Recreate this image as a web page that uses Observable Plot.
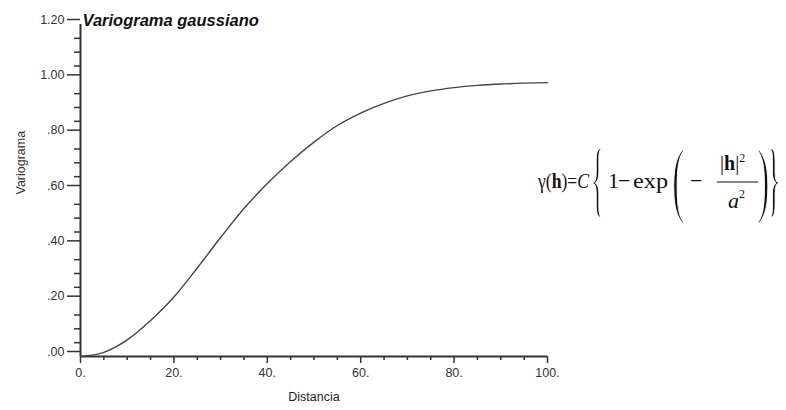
<!DOCTYPE html>
<html><head><meta charset="utf-8">
<script src="https://cdn.jsdelivr.net/npm/d3@7"></script>
<script src="https://cdn.jsdelivr.net/npm/@observablehq/plot@0.6"></script>
<style>html,body{margin:0;padding:0;background:#fff}</style>
</head><body><div id="chart"></div>
<script>
// Data
const distancia  = [0, 5, 10, 15, 20, 25, 30, 35, 40, 45, 50, 55, 60, 65, 70, 75, 80, 85, 90, 95, 100];
const variograma = [0, 0.015, 0.06, 0.13, 0.215, 0.32, 0.43, 0.535, 0.625, 0.705, 0.775, 0.835, 0.88, 0.915, 0.942, 0.96, 0.972, 0.98, 0.985, 0.988, 0.99];

const xTicks = [0, 20, 40, 60, 80, 100];
const xTickLabels = ["0.", "20.", "40.", "60.", "80.", "100."];
const xMinorTicks = [5, 10, 15, 25, 30, 35, 45, 50, 55, 65, 70, 75, 85, 90, 95];
const yTicks = [0, 0.2, 0.4, 0.6, 0.8, 1.0, 1.2];
const yTickLabels = [".00", ".20", ".40", ".60", ".80", "1.00", "1.20"];
const yMinorTicks = [0.05, 0.1, 0.15, 0.25, 0.3, 0.35, 0.45, 0.5, 0.55, 0.65, 0.7, 0.75, 0.85, 0.9, 0.95, 1.05, 1.1, 1.15];

const title = "Variograma gaussiano";
const xLabel = "Distancia";
const yLabel = "Variograma";

const data = distancia.map((d, i) => ({d, v: variograma[i]}));
const axisColor = "#333";

const svg = Plot.plot({
  width: 786,
  height: 410,
  marginLeft: 80,
  marginRight: 239,
  marginTop: 24,
  marginBottom: 54,
  style: {fontFamily: "'Liberation Sans', Arial, sans-serif", fontSize: "12px", background: "#fff", color: axisColor},
  x: {domain: [0, 100]},
  y: {domain: [0, 1.2]},
  marks: [
    Plot.axisX({ticks: xMinorTicks, tickSize: 4, tickFormat: () => "", strokeWidth: 1.5, label: null}),
    Plot.axisX({ticks: xTicks, tickSize: 7, tickPadding: 5, strokeWidth: 1.5, label: null,
      tickFormat: d => xTickLabels[xTicks.indexOf(d)], fontSize: 12.5, fill: "#333"}),
    Plot.axisY({ticks: yMinorTicks, tickSize: 6, tickFormat: () => "", strokeWidth: 1.5, label: null}),
    Plot.axisY({ticks: yTicks, tickSize: 13, tickPadding: 3, strokeWidth: 1.5, label: null, dy: -5,
      tickFormat: d => yTickLabels[yTicks.indexOf(d)], fontSize: 12.5, fill: "#333"}),
    Plot.ruleY([0], {x1: 0, x2: 100, stroke: axisColor, strokeWidth: 2}),
    Plot.ruleX([0], {y1: 0, y2: 1.2, stroke: axisColor, strokeWidth: 2}),
    Plot.line(data, {x: "d", y: "v", curve: "monotone-x", stroke: "#444", strokeWidth: 1.4}),
    Plot.text([title], {frameAnchor: "top-left", textAnchor: "start", lineAnchor: "bottom", dx: 2, dy: 1,
      fontSize: 16.5, fontWeight: "bold", fontStyle: "italic", fill: "#111"}),
    Plot.text([yLabel], {frameAnchor: "left", dx: -60, dy: 4, rotate: -90, fontSize: 12.5, fill: "#333"}),
    Plot.text([xLabel], {frameAnchor: "bottom", dy: 44, fontSize: 12.5, fill: "#222"})
  ]
});

// Formula drawn as real text on the right side
const g = d3.select(svg).append("g")
  .attr("font-family", "'Liberation Serif', 'Times New Roman', serif")
  .attr("text-anchor", "start")
  .attr("fill", "#111");

const t1 = g.append("text").attr("x", 538).attr("y", 188).attr("font-size", 22)
  .attr("textLength", 51).attr("lengthAdjust", "spacingAndGlyphs");
t1.append("tspan").text("γ(");
t1.append("tspan").attr("font-weight", "bold").text("h");
t1.append("tspan").text(")=");
t1.append("tspan").attr("font-style", "italic").text("C");

function bigGlyph(ch, x, baseline, size, sx) {
  g.append("text").attr("transform", `translate(${x},${baseline}) scale(${sx},1)`)
    .attr("font-size", size)
    .attr("stroke", "#fff").attr("stroke-width", 2.2)
    .text(ch);
}
bigGlyph("{", 590, 207, 84, 0.38);
g.append("text").attr("x", 608).attr("y", 188).attr("font-size", 22).text("1");
g.append("text").attr("x", 618).attr("y", 188).attr("font-size", 22).text("−");
g.append("text").attr("x", 633).attr("y", 188).attr("font-size", 22)
  .attr("textLength", 35).attr("lengthAdjust", "spacingAndGlyphs").text("exp");
bigGlyph("(", 672, 207, 84, 0.45);
g.append("text").attr("x", 690).attr("y", 188).attr("font-size", 22).text("−");
const num = g.append("text").attr("x", 720).attr("y", 170).attr("font-size", 20);
num.append("tspan").text("|");
num.append("tspan").attr("font-weight", "bold").text("h");
num.append("tspan").text("|");
num.append("tspan").attr("font-size", 12).attr("dy", -8).text("2");
g.append("line").attr("x1", 717).attr("x2", 758).attr("y1", 182).attr("y2", 182)
  .attr("stroke", "#111").attr("stroke-width", 1.2);
const den = g.append("text").attr("x", 728).attr("y", 208).attr("font-size", 22);
den.append("tspan").attr("font-style", "italic").text("a");
den.append("tspan").attr("font-size", 12).attr("dy", -10).text("2");
bigGlyph(")", 757, 207, 84, 0.45);
bigGlyph("}", 766, 207, 84, 0.38);

document.getElementById("chart").appendChild(svg);
</script>
</body></html>
